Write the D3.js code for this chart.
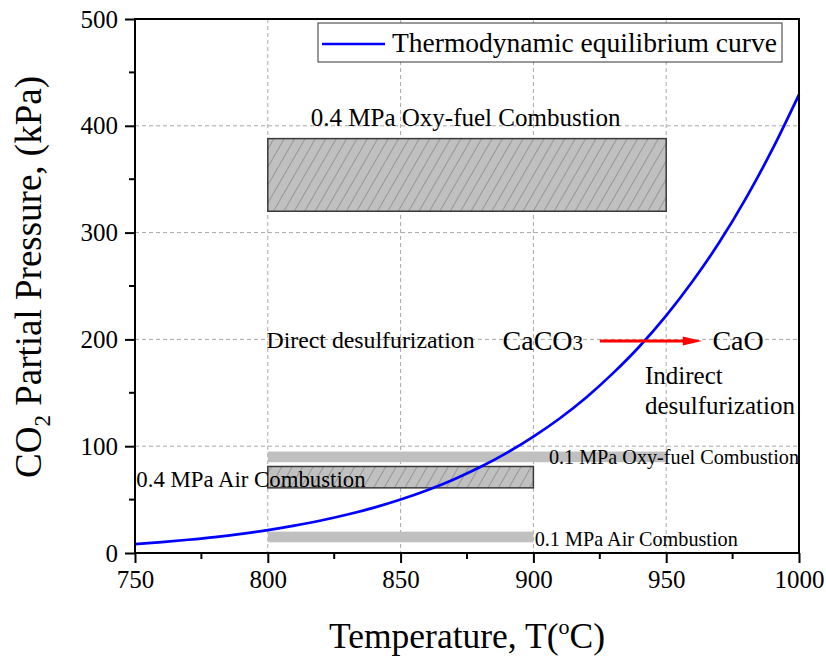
<!DOCTYPE html>
<html>
<head>
<meta charset="utf-8">
<script src="https://cdn.jsdelivr.net/npm/d3@7"></script>
<style>
  body { margin: 0; background: #fff; }
  svg { display: block; font-family: "Liberation Serif", "Times New Roman", serif; }
</style>
</head>
<body>
<svg id="chart" width="826" height="662"></svg>
<script>
// ---- data ----
const temps = [750, 760, 770, 780, 790, 800, 810, 820, 830, 840, 850, 860, 870, 880, 890, 900, 910, 920, 930, 940, 950, 960, 970, 980, 990, 1000];
const pressures = [8.4, 10.2, 12.4, 14.9, 17.9, 21.4, 25.6, 30.4, 36.0, 42.5, 50.1, 58.8, 68.9, 80.5, 93.8, 109.0, 126.2, 145.9, 168.4, 193.6, 222.3, 254.7, 290.9, 332.0, 378.1, 429.2];
const xTicks = [750, 800, 850, 900, 950, 1000];
const yTicks = [0, 100, 200, 300, 400, 500];
const regionNames = ["0.4 MPa Oxy-fuel", "0.1 MPa Oxy-fuel", "0.4 MPa Air", "0.1 MPa Air"];
const regionT0 = [800, 800, 800, 800];
const regionT1 = [950, 950, 900, 900];
const regionP0 = [320, 85, 61, 10];
const regionP1 = [388, 95, 81, 20];
const regionHatched = [true, false, true, false];
const legendLabel = "Thermodynamic equilibrium curve";

// ---- layout ----
const svg = d3.select("#chart");
const L = 135, R = 799, T = 19, B = 553;
const x = d3.scaleLinear().domain([750, 1000]).range([L, R]);
const y = d3.scaleLinear().domain([0, 500]).range([B, T]);

// hatch pattern
const defs = svg.append("defs");
const pat = defs.append("pattern").attr("id", "hatch").attr("patternUnits", "userSpaceOnUse")
  .attr("width", 9).attr("height", 9).attr("patternTransform", "rotate(30)");
pat.append("rect").attr("width", 9).attr("height", 9).attr("fill", "#c0c0c0");
pat.append("line").attr("x1", 0).attr("y1", 0).attr("x2", 0).attr("y2", 9)
  .attr("stroke", "#747474").attr("stroke-width", 1.1);

// grid
const gridX = [800, 850, 900, 950];
const gridY = [100, 200, 300, 400];
svg.append("g").selectAll("line").data(gridX).join("line")
  .attr("x1", d => x(d)).attr("x2", d => x(d)).attr("y1", T).attr("y2", B)
  .attr("stroke", "#a8a8a8").attr("stroke-width", 1).attr("stroke-dasharray", "4,3");
svg.append("g").selectAll("line").data(gridY).join("line")
  .attr("y1", d => y(d)).attr("y2", d => y(d)).attr("x1", L).attr("x2", R)
  .attr("stroke", "#a8a8a8").attr("stroke-width", 1).attr("stroke-dasharray", "4,3");

// regions
const idx = d3.range(regionNames.length);
svg.append("g").selectAll("rect").data(idx).join("rect")
  .attr("x", i => x(regionT0[i]))
  .attr("width", i => x(regionT1[i]) - x(regionT0[i]))
  .attr("y", i => y(regionP1[i]))
  .attr("height", i => y(regionP0[i]) - y(regionP1[i]))
  .attr("fill", i => regionHatched[i] ? "url(#hatch)" : "#c0c0c0")
  .attr("stroke", i => regionHatched[i] ? "#3a3a3a" : "none")
  .attr("stroke-width", 1.5);

// curve
const line = d3.line().x((d, i) => x(temps[i])).y(d => y(d)).curve(d3.curveMonotoneX);
svg.append("path").datum(pressures).attr("d", line)
  .attr("fill", "none").attr("stroke", "#0000ff").attr("stroke-width", 2.7);

// axes
const fs = 25;
const xAxis = d3.axisBottom(x).tickValues(xTicks).tickSize(10).tickPadding(7).tickFormat(d3.format("d"));
const gx = svg.append("g").attr("transform", `translate(0,${B})`).call(xAxis);
gx.select(".domain").remove();
gx.selectAll(".tick line").attr("stroke", "#000").attr("stroke-width", 2);
gx.selectAll(".tick text").attr("font-size", fs).attr("fill", "#000").attr("font-family", "Liberation Serif");
const xMinor = d3.range(775, 1000, 50);
svg.append("g").selectAll("line").data(xMinor).join("line")
  .attr("x1", d => x(d)).attr("x2", d => x(d)).attr("y1", B).attr("y2", B + 6)
  .attr("stroke", "#000").attr("stroke-width", 2);

const yAxis = d3.axisLeft(y).tickValues(yTicks).tickSize(10).tickPadding(7).tickFormat(d3.format("d"));
const gy = svg.append("g").attr("transform", `translate(${L},0)`).call(yAxis);
gy.select(".domain").remove();
gy.selectAll(".tick line").attr("stroke", "#000").attr("stroke-width", 2);
gy.selectAll(".tick text").attr("font-size", fs).attr("fill", "#000").attr("font-family", "Liberation Serif");
const yMinor = d3.range(50, 500, 100);
svg.append("g").selectAll("line").data(yMinor).join("line")
  .attr("y1", d => y(d)).attr("y2", d => y(d)).attr("x1", L - 6).attr("x2", L)
  .attr("stroke", "#000").attr("stroke-width", 2);

// frame
svg.append("rect").attr("x", L).attr("y", T).attr("width", R - L).attr("height", B - T)
  .attr("fill", "none").attr("stroke", "#000").attr("stroke-width", 2);

// axis titles
const xt = svg.append("text").attr("x", 467).attr("y", 648).attr("text-anchor", "middle")
  .attr("font-size", 35.5).attr("fill", "#000");
xt.append("tspan").text("Temperature, T(");
xt.append("tspan").attr("font-size", 22).attr("dy", -14).text("o");
xt.append("tspan").attr("dy", 14).text("C)");

const yt = svg.append("text").attr("transform", `translate(41,277) rotate(-90)`)
  .attr("text-anchor", "middle").attr("font-size", 37).attr("fill", "#000");
yt.append("tspan").text("CO");
yt.append("tspan").attr("font-size", 23).attr("dy", 9).text("2");
yt.append("tspan").attr("dy", -9).text(" Partial Pressure, (kPa)");

// legend
svg.append("rect").attr("x", 318).attr("y", 23).attr("width", 464).attr("height", 39)
  .attr("fill", "#fff").attr("stroke", "#333").attr("stroke-width", 1);
svg.append("line").attr("x1", 322).attr("x2", 385).attr("y1", 44).attr("y2", 44)
  .attr("stroke", "#0000ff").attr("stroke-width", 2.7);
svg.append("text").attr("x", 392).attr("y", 52).attr("font-size", 27.5).attr("fill", "#000").text(legendLabel);

// annotations
function label(tx, py, txt, size, anchor) {
  return svg.append("text").attr("x", x(tx)).attr("y", y(py)).attr("font-size", size)
    .attr("text-anchor", anchor || "start").attr("fill", "#000").text(txt);
}
label(874.5, 400, regionNames[0] + " Combustion", 25, "middle");
label(799.5, 192, "Direct desulfurization", 23.8);
label(1000, 83, regionNames[1] + " Combustion", 20.2, "end");
label(750.5, 62, regionNames[2] + " Combustion", 22.8);
label(900.5, 7, regionNames[3] + " Combustion", 20.2);
label(942, 158, "Indirect", 25);
label(942, 130, "desulfurization", 25);

const cc = svg.append("text").attr("x", x(888.4)).attr("y", y(190.5)).attr("font-size", 28).attr("fill", "#000");
cc.append("tspan").text("CaCO");
cc.append("tspan").attr("font-size", 21).text("3");
label(967.4, 190.5, "CaO", 28);

// arrow
const ay = y(198.5);
svg.append("line").attr("x1", x(925)).attr("x2", x(957)).attr("y1", ay).attr("y2", ay)
  .attr("stroke", "#ff0000").attr("stroke-width", 3);
svg.append("path")
  .attr("d", `M${x(957) - 2},${ay - 4.5} L${x(963.5)},${ay} L${x(957) - 2},${ay + 4.5} Z`)
  .attr("fill", "#ff0000");
</script>
</body>
</html>
